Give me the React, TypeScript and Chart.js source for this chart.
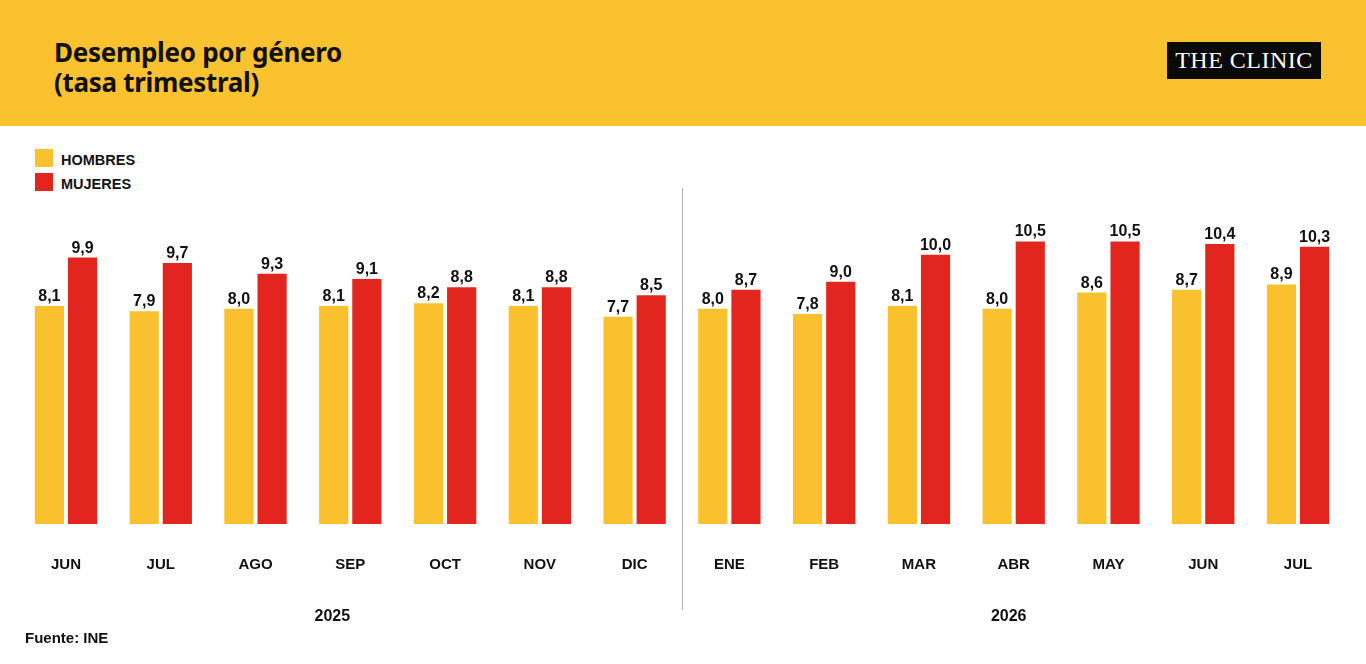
import React, { useEffect, useRef } from "react";
import { Chart, registerables } from "chart.js";

Chart.register(...registerables);

const months = ["JUN", "JUL", "AGO", "SEP", "OCT", "NOV", "DIC", "ENE", "FEB", "MAR", "ABR", "MAY", "JUN", "JUL"];
const hombres = [8.1, 7.9, 8.0, 8.1, 8.2, 8.1, 7.7, 8.0, 7.8, 8.1, 8.0, 8.6, 8.7, 8.9];
const mujeres = [9.9, 9.7, 9.3, 9.1, 8.8, 8.8, 8.5, 8.7, 9.0, 10.0, 10.5, 10.5, 10.4, 10.3];
const years = ["2025", "2026"];
const yearStart = [0, 7];
const yearEnd = [6, 13];

const YELLOW = "#F8C12D";
const RED = "#E2261F";
const LABEL_FONT = "'Liberation Sans', Arial, sans-serif";
const YEAR_SHIFT = [-18, -5];

const fmt = (v: number) => v.toFixed(1).replace(".", ",");

const extrasPlugin = {
  id: "extras",
  afterDatasetsDraw(chart: any) {
    const ctx = chart.ctx;
    ctx.save();
    ctx.fillStyle = "#111";
    ctx.font = `bold 16px ${LABEL_FONT}`;
    ctx.textAlign = "center";
    ctx.textBaseline = "alphabetic";
    chart.data.datasets.forEach((ds: any, di: number) => {
      const meta = chart.getDatasetMeta(di);
      meta.data.forEach((bar: any, i: number) => {
        ctx.fillText(fmt(ds.data[i]), bar.x, bar.y - 5);
      });
    });
    ctx.restore();
  },
  afterDraw(chart: any) {
    const ctx = chart.ctx;
    const xs = chart.scales.x;
    ctx.save();
    const xd = (xs.getPixelForValue(6) + xs.getPixelForValue(7)) / 2;
    ctx.strokeStyle = "#b0b0b0";
    ctx.lineWidth = 1;
    ctx.beginPath();
    ctx.moveTo(Math.round(xd) + 0.5, 62);
    ctx.lineTo(Math.round(xd) + 0.5, 484);
    ctx.stroke();
    ctx.fillStyle = "#111";
    ctx.font = `bold 16px ${LABEL_FONT}`;
    ctx.textAlign = "center";
    ctx.textBaseline = "middle";
    years.forEach((y, k) => {
      const cx = (xs.getPixelForValue(yearStart[k]) + xs.getPixelForValue(yearEnd[k])) / 2 + YEAR_SHIFT[k];
      ctx.fillText(y, cx, 491);
    });
    ctx.restore();
  },
};

export default function App() {
  const ref = useRef<HTMLCanvasElement>(null);
  useEffect(() => {
    if (!ref.current) return;
    const chart = new Chart(ref.current, {
      type: "bar",
      data: {
        labels: months,
        datasets: [
          { label: "HOMBRES", data: hombres, backgroundColor: YELLOW, barPercentage: 0.88, categoryPercentage: 0.7 },
          { label: "MUJERES", data: mujeres, backgroundColor: RED, barPercentage: 0.88, categoryPercentage: 0.7 },
        ],
      },
      options: {
        animation: false,
        responsive: true,
        maintainAspectRatio: false,
        layout: { padding: { left: 18.6, right: 20.6, top: 75, bottom: 58 } },
        plugins: { legend: { display: false }, tooltip: { enabled: false } },
        scales: {
          y: { display: false, min: 0, max: 12 },
          x: {
            grid: { display: false, drawTicks: false },
            border: { display: false },
            ticks: {
              padding: 32,
              color: "#111",
              font: { family: LABEL_FONT, weight: "bold", size: 15 },
              maxRotation: 0,
              autoSkip: false,
            },
          },
        },
      },
      plugins: [extrasPlugin],
    });
    return () => chart.destroy();
  }, []);

  return (
    <div style={{ position: "absolute", left: 0, top: 0, width: 1366, height: 664, background: "#fff", overflow: "hidden", fontFamily: LABEL_FONT }}>
      <div style={{ position: "absolute", left: 0, top: 0, width: 1366, height: 126, background: "#F9C22E" }} />
      <div style={{ position: "absolute", left: 54, top: 37, fontFamily: "'Noto Sans', sans-serif", fontWeight: 700, fontSize: 26, lineHeight: "30px", color: "#111", letterSpacing: -0.3 }}>
        <div>Desempleo por género</div>
        <div>(tasa trimestral)</div>
      </div>
      <div style={{ position: "absolute", left: 1167, top: 42, width: 154, height: 37, background: "#0a0a0a", color: "#fff", display: "flex", alignItems: "center", justifyContent: "center", fontFamily: "'Liberation Serif', 'DejaVu Serif', serif", fontSize: 24, letterSpacing: 0.5 }}>
        THE CLINIC
      </div>
      <div style={{ position: "absolute", left: 35, top: 149, display: "flex", alignItems: "center" }}>
        <div style={{ width: 18, height: 18, background: YELLOW }} />
        <span style={{ marginLeft: 8, fontWeight: 700, fontSize: 14.5, color: "#111", position: "relative", top: 2 }}>HOMBRES</span>
      </div>
      <div style={{ position: "absolute", left: 35, top: 173, display: "flex", alignItems: "center" }}>
        <div style={{ width: 18, height: 18, background: RED }} />
        <span style={{ marginLeft: 8, fontWeight: 700, fontSize: 14.5, color: "#111", position: "relative", top: 2 }}>MUJERES</span>
      </div>
      <div style={{ position: "absolute", left: 0, top: 126, width: 1366, height: 538 }}>
        <canvas ref={ref} />
      </div>
      <div style={{ position: "absolute", left: 25, top: 629, fontWeight: 700, fontSize: 15, color: "#111" }}>Fuente: INE</div>
    </div>
  );
}
